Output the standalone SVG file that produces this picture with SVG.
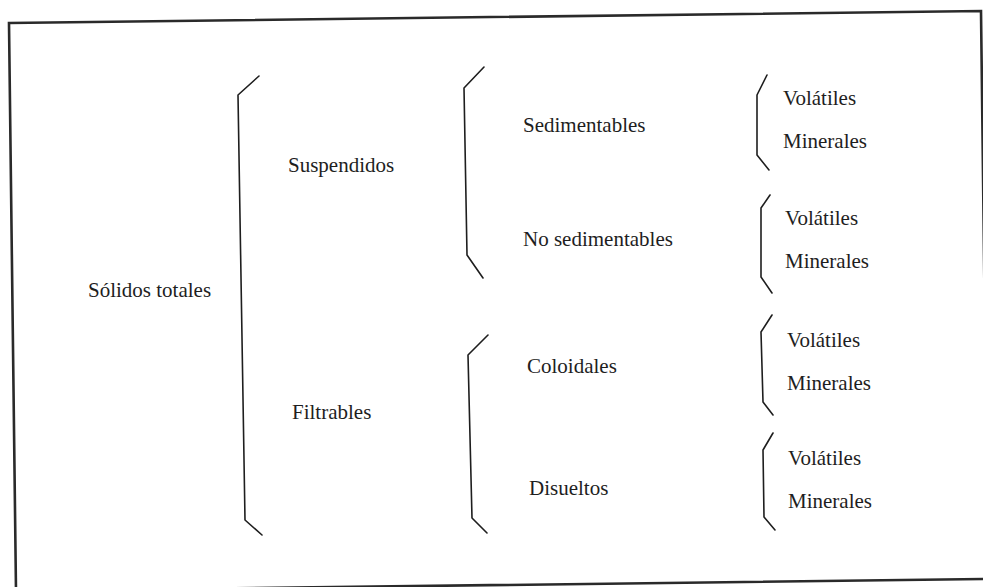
<svg xmlns="http://www.w3.org/2000/svg" width="983" height="587" viewBox="0 0 983 587">
  <style>
    .t { font-family: "Liberation Serif", "Times New Roman", serif; font-size: 21px; fill: #1e1e1e; }
    .br { fill: none; stroke: #1e1e1e; stroke-width: 1.6; stroke-linejoin: round; stroke-linecap: round; }
    .frame { fill: none; stroke: #2a2a2a; stroke-width: 2.6; }
  </style>
  <rect width="983" height="587" fill="#ffffff"/>
  <polygon class="frame" points="9,23 981,11 988,579 16,591"/>

  <g id="connectors">
    <polyline class="br" points="259,76 238,95 245,520 262,535"/>
    <polyline class="br" points="484,67 464,88 467,255 483,278"/>
    <polyline class="br" points="488,335 468,355 472,518 487,533"/>
    <polyline class="br" points="767,75 757,95 757,155 769,170"/>
    <polyline class="br" points="770,195 761,208 761,277 772,293"/>
    <polyline class="br" points="772,315 761,332 763,402 773,415"/>
    <polyline class="br" points="773,433 763,450 764,517 775,530"/>
  </g>

  <g id="solidos-totales"><text class="t" x="88" y="297">Sólidos totales</text></g>
  <g id="suspendidos"><text class="t" x="288" y="172">Suspendidos</text></g>
  <g id="filtrables"><text class="t" x="292" y="419">Filtrables</text></g>
  <g id="sedimentables"><text class="t" x="523" y="132">Sedimentables</text></g>
  <g id="no-sedimentables"><text class="t" x="523" y="246">No sedimentables</text></g>
  <g id="coloidales"><text class="t" x="527" y="373">Coloidales</text></g>
  <g id="disueltos"><text class="t" x="529" y="495">Disueltos</text></g>

  <g id="sed-volatiles"><text class="t" x="783" y="105">Volátiles</text></g>
  <g id="sed-minerales"><text class="t" x="783" y="148">Minerales</text></g>
  <g id="nosed-volatiles"><text class="t" x="785" y="225">Volátiles</text></g>
  <g id="nosed-minerales"><text class="t" x="785" y="268">Minerales</text></g>
  <g id="col-volatiles"><text class="t" x="787" y="347">Volátiles</text></g>
  <g id="col-minerales"><text class="t" x="787" y="390">Minerales</text></g>
  <g id="dis-volatiles"><text class="t" x="788" y="465">Volátiles</text></g>
  <g id="dis-minerales"><text class="t" x="788" y="508">Minerales</text></g>
</svg>
